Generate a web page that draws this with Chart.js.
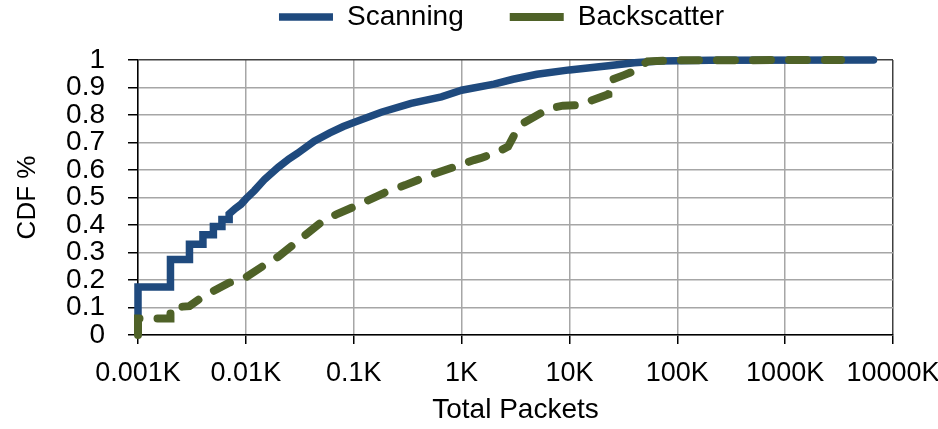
<!DOCTYPE html>
<html>
<head>
<meta charset="utf-8">
<script src="https://cdn.jsdelivr.net/npm/chart.js@4.4.0/dist/chart.umd.min.js"></script>
<style>
  html, body { margin: 0; padding: 0; background: #fff; }
</style>
</head>
<body>
<canvas id="cdfChart" width="938" height="429"></canvas>
<script>
// total packets in K, cdf values
let scanPackets = [0.001, 0.001, 0.002, 0.002, 0.003, 0.003, 0.004, 0.004, 0.005, 0.005, 0.006, 0.006,
    0.007, 0.007, 0.008, 0.009, 0.01, 0.012, 0.015, 0.02, 0.025, 0.03, 0.043, 0.06, 0.08, 0.1,
    0.18, 0.34, 0.65, 1, 2, 3, 5, 10, 23, 40, 70, 200, 6600];
let scanCdf = [0.067, 0.175, 0.175, 0.275, 0.275, 0.33, 0.33, 0.365, 0.365, 0.395, 0.395, 0.42,
    0.42, 0.44, 0.46, 0.475, 0.495, 0.525, 0.567, 0.61, 0.64, 0.66, 0.705, 0.735, 0.758, 0.773,
    0.81, 0.842, 0.866, 0.89, 0.912, 0.93, 0.948, 0.964, 0.979, 0.99, 0.996, 0.999, 1.0];

let backPackets = [0.001, 0.001, 0.002, 0.002, 0.003, 0.004, 0.005, 0.007, 0.01, 0.015, 0.02, 0.03,
    0.05, 0.07, 0.1, 0.2, 0.3, 0.5, 1, 1.3, 1.5, 2.2, 2.7, 3.2, 3.7, 6.5, 8.7, 13, 16.5, 23, 23.5,
    32, 40, 53, 100, 3300];
let backCdf = [0, 0.06, 0.06, 0.10, 0.105, 0.14, 0.16, 0.19, 0.21, 0.255, 0.285, 0.34,
    0.41, 0.44, 0.466, 0.52, 0.545, 0.58, 0.62, 0.636, 0.643, 0.667, 0.685, 0.74, 0.77, 0.824,
    0.834, 0.836, 0.855, 0.875, 0.925, 0.945, 0.96, 0.995, 0.999, 1.0];

let xTickValues = [0.001, 0.01, 0.1, 1, 10, 100, 1000, 10000];
let xTickLabels = ["0.001K", "0.01K", "0.1K", "1K", "10K", "100K", "1000K", "10000K"];
let yTickLabels = ["0", "0.1", "0.2", "0.3", "0.4", "0.5", "0.6", "0.7", "0.8", "0.9", "1"];

function toPoints(xs, ys) {
    return xs.map((x, i) => ({ x: x, y: ys[i] }));
}

Chart.defaults.font.family = "'Liberation Sans', Arial, sans-serif";
Chart.defaults.color = '#000';

// legend sits higher and a bit right of centre, plot top at 60px
let legendPlacer = {
    id: 'legendPlacer',
    afterInit(chart) {
        let legend = chart.legend;
        let baseFit = legend.fit;
        legend.fit = function() {
            baseFit.call(this);
            this.height = 60;
        };
    },
    afterLayout(chart) {
        let legend = chart.legend;
        legend.top = -43;
        legend.left += 55;
        legend.right += 55;
    }
};

let ctx = document.getElementById("cdfChart").getContext("2d");

let cdfChart = new Chart(ctx, {
    type: 'scatter',
    data: {
        datasets: [{
                label: 'Scanning',
                data: toPoints(scanPackets, scanCdf),
                showLine: true,
                borderColor: '#1f4a7e',
                backgroundColor: '#1f4a7e',
                borderWidth: 7.5,
                borderCapStyle: 'round',
                pointRadius: 0,
                order: 1,
                clip: false
            },
            {
                label: 'Backscatter',
                data: toPoints(backPackets, backCdf),
                showLine: true,
                borderColor: '#4f6228',
                backgroundColor: '#4f6228',
                borderWidth: 8,
                borderDash: [18, 18],
                borderCapStyle: 'round',
                pointRadius: 0,
                order: 0,
                clip: false
            }
        ]
    },
    options: {
        responsive: false,
        animation: false,
        layout: {
            padding: { left: 0, right: 45, top: 0, bottom: 0 }
        },
        plugins: {
            legend: {
                display: true,
                position: 'top',
                labels: {
                    usePointStyle: true,
                    pointStyle: 'line',
                    pointStyleWidth: 54,
                    padding: 46,
                    color: '#000',
                    font: { size: 28 },
                    sort: (a, b) => a.datasetIndex - b.datasetIndex
                }
            },
            tooltip: { enabled: false }
        },
        scales: {
            x: {
                type: 'logarithmic',
                min: 0.001,
                max: 10000,
                afterBuildTicks: function(scale) {
                    scale.ticks = xTickValues.map(v => ({ value: v }));
                },
                afterFit: function(scale) {
                    scale.height = 94;
                    scale.paddingLeft = 0;
                    scale.paddingRight = 0;
                },
                ticks: {
                    autoSkip: false,
                    maxRotation: 0,
                    padding: 13,
                    font: { size: 27 },
                    callback: function(value, index) {
                        return xTickLabels[index];
                    }
                },
                grid: {
                    color: function(c) {
                        return c.index === xTickValues.length - 1 ? '#404040' : '#a6a6a6';
                    },
                    lineWidth: 1.5,
                    tickLength: 9,
                    tickColor: '#000'
                },
                border: { color: '#000', width: 1.5 },
                title: {
                    display: true,
                    text: 'Total Packets',
                    font: { size: 28 },
                    padding: { top: 0, bottom: 2 }
                }
            },
            y: {
                min: 0,
                max: 1,
                afterFit: function(scale) {
                    scale.width = 138;
                },
                ticks: {
                    stepSize: 0.1,
                    autoSkip: false,
                    padding: 23,
                    font: { size: 28 },
                    callback: function(value, index) {
                        return yTickLabels[index];
                    }
                },
                grid: {
                    color: function(c) {
                        return c.index === yTickLabels.length - 1 ? '#404040' : '#a6a6a6';
                    },
                    lineWidth: 1.5,
                    tickLength: 10,
                    tickColor: '#000'
                },
                border: { color: '#000', width: 1.5 },
                title: {
                    display: true,
                    text: 'CDF %',
                    font: { size: 26 },
                    padding: { top: 12, bottom: 0 }
                }
            }
        }
    },
    plugins: [legendPlacer]
});
</script>
</body>
</html>
